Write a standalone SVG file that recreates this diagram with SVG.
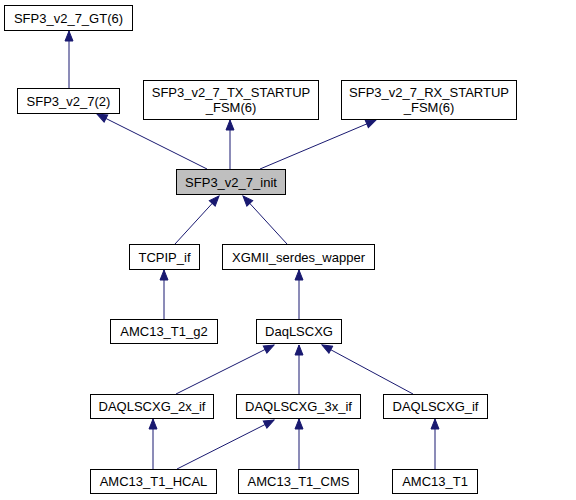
<svg xmlns="http://www.w3.org/2000/svg" width="576" height="500" viewBox="0 0 576 500">
<style>
.n rect{fill:#fff;stroke:#000;stroke-width:1}
.n text{font-family:"Liberation Sans",Arial,sans-serif;font-size:13px;text-anchor:middle;fill:#000}
.e line{stroke:#191970;stroke-width:1;marker-end:url(#ah)}
</style>
<defs>
<marker id="ah" markerUnits="userSpaceOnUse" markerWidth="12" markerHeight="10" refX="11" refY="5" orient="auto" viewBox="0 0 12 10">
<path d="M1,1 L11,5 L1,9 z" fill="#191970" stroke="#191970" stroke-width="1"/>
</marker>
</defs>
<rect width="576" height="500" fill="#fff"/>
<g class="e">
<line x1="69" y1="88" x2="69" y2="31"/>
<line x1="207" y1="169" x2="97" y2="114"/>
<line x1="230" y1="169" x2="230" y2="120"/>
<line x1="260" y1="169" x2="376" y2="120"/>
<line x1="175" y1="244" x2="219" y2="196"/>
<line x1="287" y1="244" x2="243" y2="196"/>
<line x1="164" y1="319" x2="164" y2="270"/>
<line x1="299" y1="319" x2="299" y2="270"/>
<line x1="176" y1="394" x2="274" y2="345"/>
<line x1="299" y1="394" x2="299" y2="345"/>
<line x1="413" y1="394" x2="322" y2="345"/>
<line x1="153" y1="469" x2="153" y2="419"/>
<line x1="177" y1="469" x2="274" y2="420"/>
<line x1="299" y1="469" x2="299" y2="419"/>
<line x1="435" y1="469" x2="435" y2="419"/>
</g>
<g id="gt" class="n"><rect x="4.5" y="5.5" width="128" height="25"/><text x="68.5" y="22.5">SFP3_v2_7_GT(6)</text></g>
<g id="v27" class="n"><rect x="17.5" y="88.5" width="102" height="25"/><text x="68.5" y="105.5">SFP3_v2_7(2)</text></g>
<g id="tx" class="n"><rect x="143.5" y="80.5" width="175" height="39"/><text x="231" y="96.5">SFP3_v2_7_TX_STARTUP</text><text x="231" y="111.5">_FSM(6)</text></g>
<g id="rx" class="n"><rect x="341.5" y="80.5" width="175" height="39"/><text x="429" y="96.5">SFP3_v2_7_RX_STARTUP</text><text x="429" y="111.5">_FSM(6)</text></g>
<g id="init" class="n"><rect x="176.5" y="169.5" width="109" height="25" style="fill:#bfbfbf"/><text x="231" y="186.5">SFP3_v2_7_init</text></g>
<g id="tcpip" class="n"><rect x="129.5" y="244.5" width="70" height="25"/><text x="164.5" y="261.5">TCPIP_if</text></g>
<g id="xgmii" class="n"><rect x="222.5" y="244.5" width="152" height="25"/><text x="298.5" y="261.5">XGMII_serdes_wapper</text></g>
<g id="g2" class="n"><rect x="110.5" y="319.5" width="107" height="24"/><text x="164" y="336">AMC13_T1_g2</text></g>
<g id="daq" class="n"><rect x="256.5" y="319.5" width="85" height="24"/><text x="299" y="336">DaqLSCXG</text></g>
<g id="d2x" class="n"><rect x="90.5" y="394.5" width="123" height="24"/><text x="152" y="411">DAQLSCXG_2x_if</text></g>
<g id="d3x" class="n"><rect x="236.5" y="394.5" width="124" height="24"/><text x="298.5" y="411">DAQLSCXG_3x_if</text></g>
<g id="dif" class="n"><rect x="383.5" y="394.5" width="104" height="24"/><text x="435.5" y="411">DAQLSCXG_if</text></g>
<g id="hcal" class="n"><rect x="90.5" y="469.5" width="126" height="24"/><text x="153.5" y="486">AMC13_T1_HCAL</text></g>
<g id="cms" class="n"><rect x="238.5" y="469.5" width="120" height="24"/><text x="298.5" y="486">AMC13_T1_CMS</text></g>
<g id="t1" class="n"><rect x="392.5" y="469.5" width="85" height="24"/><text x="435" y="486">AMC13_T1</text></g>
</svg>
